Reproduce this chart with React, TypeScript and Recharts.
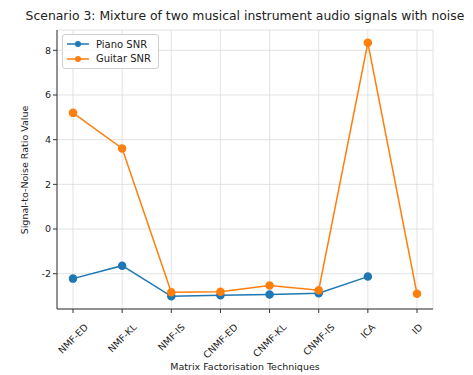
import {
  LineChart,
  Line,
  XAxis,
  YAxis,
  CartesianGrid,
} from 'recharts'

const techniques = ['NMF-ED', 'NMF-KL', 'NMF-IS', 'CNMF-ED', 'CNMF-KL', 'CNMF-IS', 'ICA', 'ID']
const pianoSnr: Array<number | null> = [-2.22, -1.64, -3.01, -2.96, -2.93, -2.87, -2.13, null]
const guitarSnr = [5.2, 3.61, -2.83, -2.81, -2.53, -2.74, 8.34, -2.9]
const yTicks = [-2, 0, 2, 4, 6, 8]

const data = techniques.map((name, i) => ({
  name,
  piano: pianoSnr[i],
  guitar: guitarSnr[i],
}))

const FONT = '"DejaVu Sans", sans-serif'
const BLUE = '#1f77b4'
const ORANGE = '#ff7f0e'
const TICK_FONT = 9.5

let measureCtx: CanvasRenderingContext2D | null = null
function textWidth(s: string) {
  if (!measureCtx) measureCtx = document.createElement('canvas').getContext('2d')
  if (!measureCtx) return s.length * TICK_FONT * 0.65
  measureCtx.font = `${TICK_FONT}px "DejaVu Sans"`
  return measureCtx.measureText(s).width
}

// 45° labels centred under the tick, top of the rotated box a fixed gap below the axis
function RotatedTick(props: any) {
  const { x, y, payload } = props
  const w = textWidth(String(payload.value))
  const boxH = (w + TICK_FONT) * Math.SQRT1_2
  const cy = y + 7 + boxH / 2
  return (
    <g transform={`translate(${x},${cy}) rotate(-45)`}>
      <text
        textAnchor="middle"
        dominantBaseline="central"
        fontSize={TICK_FONT}
        fontFamily={FONT}
        fill="#222"
      >
        {payload.value}
      </text>
    </g>
  )
}

// legend box drawn over the top-left corner of the plot
function LegendBox() {
  const items = [
    { label: 'Piano SNR', color: BLUE },
    { label: 'Guitar SNR', color: ORANGE },
  ]
  return (
    <div
      style={{
        position: 'absolute',
        left: 62,
        top: 34,
        border: '1px solid #d0d0d0',
        borderRadius: 3,
        background: 'rgba(255,255,255,0.85)',
        padding: '2px 7px 2px 4px',
        fontFamily: FONT,
        fontSize: 10,
        color: '#222',
      }}
    >
      {items.map((it) => (
        <div key={it.label} style={{ display: 'flex', alignItems: 'center', height: 14.5 }}>
          <svg width={22} height={10} style={{ marginRight: 7 }}>
            <line x1={0} y1={5} x2={22} y2={5} stroke={it.color} strokeWidth={1.5} />
            <circle cx={11} cy={5} r={3} fill={it.color} />
          </svg>
          {it.label}
        </div>
      ))}
    </div>
  )
}

export default function App() {
  return (
    <div style={{ position: 'absolute', left: 0, top: 0, width: 473, height: 375, background: '#fff' }}>
      <div
        style={{
          position: 'absolute',
          left: 0,
          width: 490,
          top: 8,
          textAlign: 'center',
          fontFamily: FONT,
          fontSize: 12.4,
          color: '#222',
          whiteSpace: 'nowrap',
        }}
      >
        Scenario 3: Mixture of two musical instrument audio signals with noise
      </div>
      <div
        style={{
          position: 'absolute',
          left: 24,
          top: 170,
          transform: 'translate(-50%,-50%) rotate(-90deg)',
          fontFamily: FONT,
          fontSize: 9.5,
          color: '#222',
          whiteSpace: 'nowrap',
        }}
      >
        Signal-to-Noise Ratio Value
      </div>
      <div
        style={{
          position: 'absolute',
          left: 245,
          top: 361,
          transform: 'translateX(-50%)',
          fontFamily: FONT,
          fontSize: 9.5,
          color: '#222',
          whiteSpace: 'nowrap',
        }}
      >
        Matrix Factorisation Techniques
      </div>
      <div style={{ position: 'absolute', left: 0, top: 0 }}>
        <LineChart
          width={473}
          height={375}
          data={data}
          margin={{ top: 30, right: 40, left: 0, bottom: 0 }}
        >
          <CartesianGrid stroke="#dcdcdc" strokeWidth={0.8} />
          <XAxis
            dataKey="name"
            height={66}
            padding={{ left: 16, right: 16 }}
            tick={<RotatedTick />}
            tickSize={4}
            interval={0}
            axisLine={{ stroke: '#333' }}
            tickLine={{ stroke: '#333' }}
          />
          <XAxis xAxisId="top" orientation="top" dataKey="name" height={0} tick={false} tickLine={false} axisLine={{ stroke: '#333' }} />
          <YAxis
            type="number"
            domain={[-3.58, 8.91]}
            ticks={yTicks}
            width={57}
            tickSize={4}
            tick={{ fontSize: 9.5, fontFamily: FONT, fill: '#222' }}
            axisLine={{ stroke: '#333' }}
            tickLine={{ stroke: '#333' }}
          />
          <YAxis yAxisId="right" orientation="right" width={0} tick={false} tickLine={false} axisLine={{ stroke: '#333' }} />
          <Line
            dataKey="piano"
            name="Piano SNR"
            stroke={BLUE}
            strokeWidth={1.5}
            dot={{ r: 3.5, fill: BLUE, stroke: BLUE }}
            connectNulls={false}
            isAnimationActive={false}
          />
          <Line
            dataKey="guitar"
            name="Guitar SNR"
            stroke={ORANGE}
            strokeWidth={1.5}
            dot={{ r: 3.5, fill: ORANGE, stroke: ORANGE }}
            isAnimationActive={false}
          />
        </LineChart>
      </div>
      <LegendBox />
    </div>
  )
}
